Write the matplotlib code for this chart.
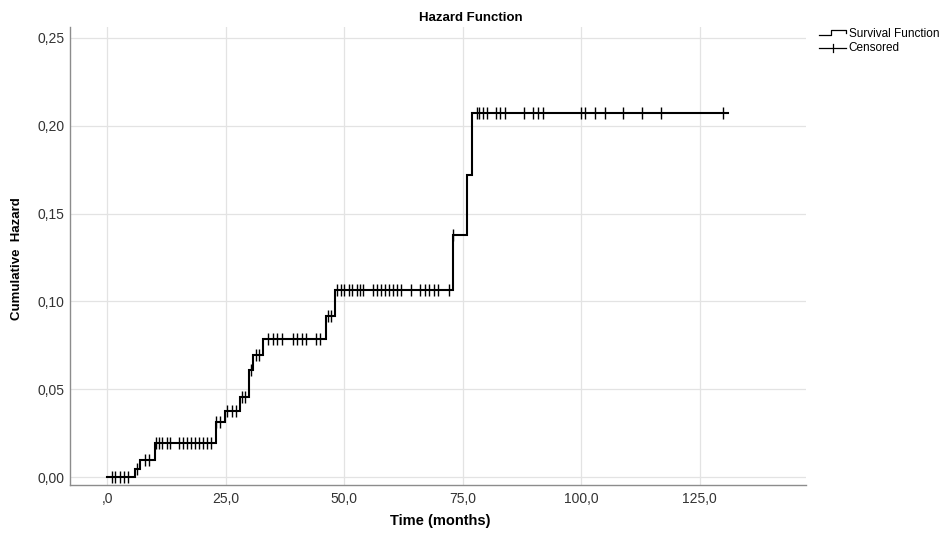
import numpy as np
import matplotlib
matplotlib.use("Agg")
import matplotlib.pyplot as plt
from matplotlib.lines import Line2D
from matplotlib.legend_handler import HandlerBase

plt.rcParams['font.family'] = ['Liberation Sans', 'DejaVu Sans']

# ---- data ----
step_times = [0.0, 5.8, 6.9, 10.0, 22.9, 24.8, 27.9, 29.9, 30.8, 32.9, 46.1, 48.0, 72.9, 75.9, 77.0]
cum_hazard = [0.0, 0.0050, 0.0099, 0.0193, 0.0315, 0.0377, 0.0456, 0.0613, 0.0698, 0.0785,
              0.0920, 0.1064, 0.1380, 0.1718, 0.2070]
end_time = 131.0

censored_times = [0.9, 1.7, 2.6, 3.4, 4.3,
                  6.3, 7.9, 8.8,
                  10.2, 10.9, 11.5, 12.5, 13.2, 15.1, 16.0, 16.8, 17.7, 18.5, 19.4, 20.2, 21.1, 21.8,
                  23.0, 23.8, 25.3, 26.2, 27.1, 28.3, 29.0, 30.2, 31.3, 32.0,
                  33.9, 35.0, 35.8, 36.8, 39.1, 40.0, 41.0, 42.0, 44.0, 44.8,
                  46.5, 47.2,
                  48.4, 49.2, 50.0, 50.9, 51.7, 52.6, 53.4, 54.0, 56.1, 56.9, 57.8, 58.6, 59.5,
                  60.3, 61.2, 61.9, 64.0, 65.9, 67.0, 67.9, 68.9, 69.8, 72.1,
                  73.0,
                  77.9, 78.4, 79.3, 80.0, 81.9, 82.8, 83.9, 87.9, 89.8, 90.9, 91.9,
                  100.0, 100.7, 102.8, 104.9, 108.8, 112.9, 116.9, 129.9]

x_ticks = [0, 25, 50, 75, 100, 125]
x_tick_labels = [",0", "25,0", "50,0", "75,0", "100,0", "125,0"]
y_ticks = [0.0, 0.05, 0.10, 0.15, 0.20, 0.25]
y_tick_labels = ["0,00", "0,05", "0,10", "0,15", "0,20", "0,25"]

title = "Hazard Function"
x_label = "Time (months)"
y_label = "Cumulative  Hazard"

# ---- figure ----
fig = plt.figure(figsize=(9.42, 5.33), dpi=100)
ax = fig.add_axes([0.0743, 0.090, 0.7813, 0.859])

xs = list(step_times) + [end_time]
ys = list(cum_hazard) + [cum_hazard[-1]]
ax.step(xs, ys, where='post', color='black', lw=1.5, zorder=3, solid_joinstyle='miter')

idx = np.searchsorted(step_times, censored_times, side='right') - 1
cy = np.array(cum_hazard)[idx]
ax.plot(censored_times, cy, linestyle='none', marker='|', markersize=8.5,
        markeredgewidth=1.0, color='black', zorder=4)

ax.set_xlim(-7.9, 147.4)
ax.set_ylim(-0.0044, 0.256)
ax.set_xticks(x_ticks)
ax.set_xticklabels(x_tick_labels)
ax.set_yticks(y_ticks)
ax.set_yticklabels(y_tick_labels)
ax.tick_params(length=0, labelsize=10, colors='#333333')
ax.tick_params(axis='x', pad=5)
ax.tick_params(axis='y', pad=4)
ax.grid(True, color='#e3e3e3', lw=0.9)
ax.set_axisbelow(True)
for s in ['top', 'right']:
    ax.spines[s].set_visible(False)
for s in ['left', 'bottom']:
    ax.spines[s].set_color('#8c8c8c')
    ax.spines[s].set_linewidth(1.0)

fig.text(471 / 942, 1 - 18 / 533, title, ha='center', va='center', fontsize=9.5, fontweight='bold')
fig.text(440 / 942, 1 - 521 / 533, x_label, ha='center', va='center', fontsize=10.5, fontweight='bold')
fig.text(17 / 942, 1 - 259 / 533, y_label, ha='center', va='center', rotation=90,
         fontsize=9.5, fontweight='bold')


class StepHandler(HandlerBase):
    def create_artists(self, legend, orig_handle, x0, y0, width, height, fontsize, trans):
        lo = y0 + height * 0.2
        hi = y0 + height * 0.8
        xm = x0 + width * 0.45
        line = Line2D([x0, xm, xm, x0 + width, x0 + width], [lo, lo, hi, hi, lo + height * 0.25],
                      color='black', lw=0.9, transform=trans)
        return [line]


class CensHandler(HandlerBase):
    def create_artists(self, legend, orig_handle, x0, y0, width, height, fontsize, trans):
        yc = y0 + height * 0.4
        line = Line2D([x0, x0 + width], [yc, yc], color='black', lw=0.9, transform=trans)
        tick = Line2D([x0 + width / 2] * 2, [yc - height * 0.5, yc + height * 0.5],
                      color='black', lw=0.9, transform=trans)
        return [line, tick]


h1 = Line2D([], [], color='black')
h2 = Line2D([], [], color='black', marker='|')
fig.legend([h1, h2], ["Survival Function", "Censored"],
           handler_map={h1: StepHandler(), h2: CensHandler()},
           loc='upper left', bbox_to_anchor=(819 / 942, 1 - 28 / 533), frameon=False,
           fontsize=8.5, handlelength=2.3, handletextpad=0.2, labelspacing=0.2,
           borderpad=0, borderaxespad=0)

fig.savefig("out.png", dpi=100)
